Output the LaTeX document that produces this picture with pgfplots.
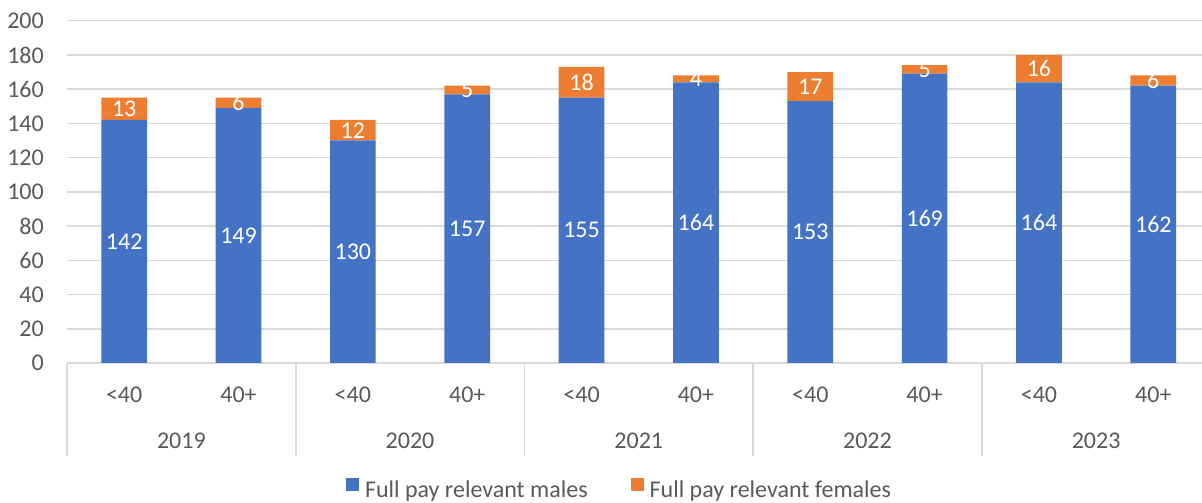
\documentclass[border=0pt]{standalone}
\usepackage{pgfplots}
\usepackage{pgfplotstable}
\pgfplotsset{compat=1.18}
\usepackage{fontspec}
\setmainfont{Carlito}
\definecolor{cblue}{HTML}{4472C4}
\definecolor{corange}{HTML}{ED7D31}
\definecolor{ctext}{HTML}{595959}
\definecolor{cgrid}{HTML}{D9D9D9}
\pgfplotstableread{
x m f
0 142 13
1 149 6
2 130 12
3 157 5
4 155 18
5 164 4
6 153 17
7 169 5
8 164 16
9 162 6
}\datatable
\begin{document}
\fontsize{24bp}{28bp}\selectfont
\begin{tikzpicture}[x=1bp,y=1bp,font=\fontsize{24bp}{28bp}\selectfont]
\useasboundingbox (0,0) rectangle (1202,503);
\begin{axis}[
  at={(67bp,140bp)}, anchor=south west,
  scale only axis, width=1143.5bp, height=342.3bp,
  xmin=-0.5, xmax=9.5, ymin=0, ymax=200,
  ybar stacked, bar width=45.7bp,
  axis line style={draw=none},
  ymajorgrids, grid style={cgrid, line width=1.6bp},
  ytick={0,20,...,200},
  xtick={0,...,9},
  xticklabels={<40,40+,<40,40+,<40,40+,<40,40+,<40,40+},
  major tick length=0pt,
  tick label style={text=ctext, inner sep=0pt},
  yticklabel style={anchor=east, xshift=-23bp},
  xticklabel style={anchor=center, yshift=-31.5bp},
  /pgf/number format/assume math mode=true,
  clip=false,
  legend columns=2,
  legend image code/.code={\fill[#1] (0bp,0bp) rectangle (13bp,13bp);},
  legend style={at={(0.244,-0.3685)}, anchor=west, draw=none, fill=none,
    inner sep=0pt, outer sep=0pt, text=ctext,
    nodes={inner sep=0pt},
    /tikz/every even column/.append style={column sep=43bp},
    /tikz/every odd column/.append style={column sep=6bp}},
]
\addplot[fill=cblue, draw=none] table[x=x, y=m] {\datatable};
\addlegendentry{Full pay relevant males}
\addplot[fill=corange, draw=none] table[x=x, y=f] {\datatable};
\addlegendentry{Full pay relevant females}
\pgfplotsinvokeforeach{-0.5,1.5,3.5,5.5,7.5,9.5}{
  \draw[cgrid, line width=1.6bp] (axis cs:#1,0) -- ++(0bp,-93bp);
}
\node[text=ctext] at (axis cs:0.5,0) [yshift=-77.5bp] {2019};
\node[text=ctext] at (axis cs:2.5,0) [yshift=-77.5bp] {2020};
\node[text=ctext] at (axis cs:4.5,0) [yshift=-77.5bp] {2021};
\node[text=ctext] at (axis cs:6.5,0) [yshift=-77.5bp] {2022};
\node[text=ctext] at (axis cs:8.5,0) [yshift=-77.5bp] {2023};
\end{axis}
\begin{axis}[
  at={(67bp,140bp)}, anchor=south west,
  scale only axis, width=1143.5bp, height=342.3bp,
  xmin=-0.5, xmax=9.5, ymin=0, ymax=200,
  hide axis, clip=false,
  /pgf/number format/assume math mode=true,
  nodes near coords,
  nodes near coords style={anchor=center, text=white, inner sep=0pt},
  point meta=explicit,
]
\addplot[draw=none, mark=none] table[x=x, y expr=\thisrow{m}/2, meta=m] {\datatable};
\addplot[draw=none, mark=none] table[x=x, y expr=\thisrow{m}+\thisrow{f}/2, meta=f] {\datatable};
\end{axis}
\end{tikzpicture}
\end{document}
